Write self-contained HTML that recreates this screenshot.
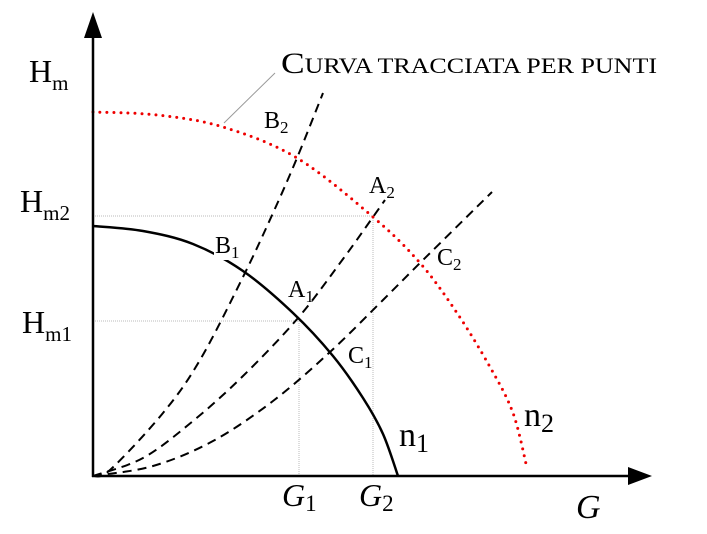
<!DOCTYPE html>
<html><head><meta charset="utf-8"><style>
html,body{margin:0;padding:0;background:#fff;}
svg{display:block;font-family:"Liberation Serif",serif;}
</style></head><body>
<svg id="chart" width="707" height="534" viewBox="0 0 707 534" xmlns="http://www.w3.org/2000/svg">
<g id="grid"></g>
<g id="curves"></g>
<g id="axes">
<line x1="93" y1="477" x2="93" y2="36" stroke="#000" stroke-width="2.5"/>
<polygon points="84,38 102,38 93,12" fill="#000"/>
<line x1="92" y1="476" x2="630" y2="476" stroke="#000" stroke-width="2.5"/>
<polygon points="628,467 628,485 652,476" fill="#000"/>
</g>
<g id="labels" fill="#000">
<text x="29" y="82" font-size="32">H<tspan font-size="21" dy="8">m</tspan></text>
<text x="20" y="212" font-size="32">H<tspan font-size="21" dy="8">m2</tspan></text>
<text x="22" y="333" font-size="32">H<tspan font-size="21" dy="8">m1</tspan></text>
<text x="281" y="73" font-size="30" textLength="376" lengthAdjust="spacingAndGlyphs">C<tspan font-size="22">URVA TRACCIATA PER PUNTI</tspan></text>
<line x1="275" y1="73" x2="224" y2="123" stroke="#999" stroke-width="1"/>
<text x="264" y="128" font-size="24">B<tspan font-size="17" dy="5">2</tspan></text>
<text x="369" y="193" font-size="24">A<tspan font-size="17" dy="5">2</tspan></text>
<rect x="214" y="246" width="14" height="14" fill="#fff"/>
<text x="215" y="253" font-size="24">B<tspan font-size="17" dy="5">1</tspan></text>
<text x="437" y="265" font-size="24">C<tspan font-size="17" dy="5">2</tspan></text>
<text x="288" y="297" font-size="24">A<tspan font-size="17" dy="5">1</tspan></text>
<text x="348" y="363" font-size="24">C<tspan font-size="17" dy="5">1</tspan></text>
<text x="399" y="446" font-size="34">n<tspan font-size="26" dy="6">1</tspan></text>
<text x="524" y="426" font-size="34">n<tspan font-size="26" dy="6">2</tspan></text>
<text x="282" y="506" font-size="32" font-style="italic">G<tspan font-size="23" font-style="normal" dy="5">1</tspan></text>
<text x="359" y="506" font-size="32" font-style="italic">G<tspan font-size="23" font-style="normal" dy="5">2</tspan></text>
<text x="576" y="518" font-size="34" font-style="italic">G</text>
</g>
</svg>
<script>
// data in chart units: g = flow, h = head
const n1G = [0, 50, 100, 150, 200, 240, 270, 290, 305];
const n1H = [250, 245, 232, 205, 163, 120, 78, 42, 0];
const n2G = [0, 64, 130, 204, 280, 327, 364, 397, 420, 434];
const n2H = [364, 361, 349, 318, 259, 213, 163, 109, 63, 8];
const bG = [0, 17, 70, 107, 150, 180, 204, 230];
const bH = [0, 6, 63, 116, 199, 263, 318, 383];
const aG = [0, 50, 100, 150, 205, 250, 280, 292];
const aH = [0, 18, 55, 100, 158, 217, 259, 276];
const cG = [0, 60, 120, 180, 237, 290, 327, 399];
const cH = [0, 10, 35, 75, 124, 176, 213, 284];
const gridG = [206, 280];
const gridH = [155, 260];

const X0 = 93, Y0 = 476;
function xs(g){ return X0 + g; }
function ys(h){ return Y0 - h; }
const NS = "http://www.w3.org/2000/svg";

function smoothPath(G, H){
  const p = G.map((g,i)=>[xs(g), ys(H[i])]);
  let d = "M" + p[0][0] + "," + p[0][1];
  for(let i=0;i<p.length-1;i++){
    const p0=p[Math.max(i-1,0)], p1=p[i], p2=p[i+1], p3=p[Math.min(i+2,p.length-1)];
    const c1x=p1[0]+(p2[0]-p0[0])/6, c1y=p1[1]+(p2[1]-p0[1])/6;
    const c2x=p2[0]-(p3[0]-p1[0])/6, c2y=p2[1]-(p3[1]-p1[1])/6;
    d += " C"+c1x+","+c1y+" "+c2x+","+c2y+" "+p2[0]+","+p2[1];
  }
  return d;
}

const curves = document.getElementById("curves");
const grid = document.getElementById("grid");

for(let i=0;i<gridG.length;i++){
  const hl = document.createElementNS(NS,"line");
  
  
  hl.setAttribute("x1", xs(0)); hl.setAttribute("x2", xs(gridG[i]));
  hl.setAttribute("y1", ys(gridH[i])); hl.setAttribute("y2", ys(gridH[i]));
  hl.setAttribute("stroke","#bbb"); hl.setAttribute("stroke-width","1"); hl.setAttribute("stroke-dasharray","1 1");
  grid.appendChild(hl);
  const vl = document.createElementNS(NS,"line");
  
  
  vl.setAttribute("x1", xs(gridG[i])); vl.setAttribute("x2", xs(gridG[i]));
  vl.setAttribute("y1", ys(gridH[i])); vl.setAttribute("y2", ys(0));
  vl.setAttribute("stroke","#bbb"); vl.setAttribute("stroke-width","1"); vl.setAttribute("stroke-dasharray","1 1");
  grid.appendChild(vl);
}

function addLine(G,H,name,stroke,width,dash,cap){
  const p = document.createElementNS(NS,"path");
  
  
  p.setAttribute("d", smoothPath(G,H));
  p.setAttribute("fill","none");
  p.setAttribute("stroke",stroke);
  p.setAttribute("stroke-width",width);
  if(dash) p.setAttribute("stroke-dasharray",dash);
  if(cap) p.setAttribute("stroke-linecap",cap);
  curves.appendChild(p);
}
addLine(bG,bH,"system-curve-b","#000",2,"9 6");
addLine(aG,aH,"system-curve-a","#000",2,"9 6");
addLine(cG,cH,"system-curve-c","#000",2,"9 6");
addLine(n1G,n1H,"pump-curve-n1","#000",2.5,null);
addLine(n2G,n2H,"pump-curve-n2","#e00",3,"0 7","round");
</script>
</body></html>
